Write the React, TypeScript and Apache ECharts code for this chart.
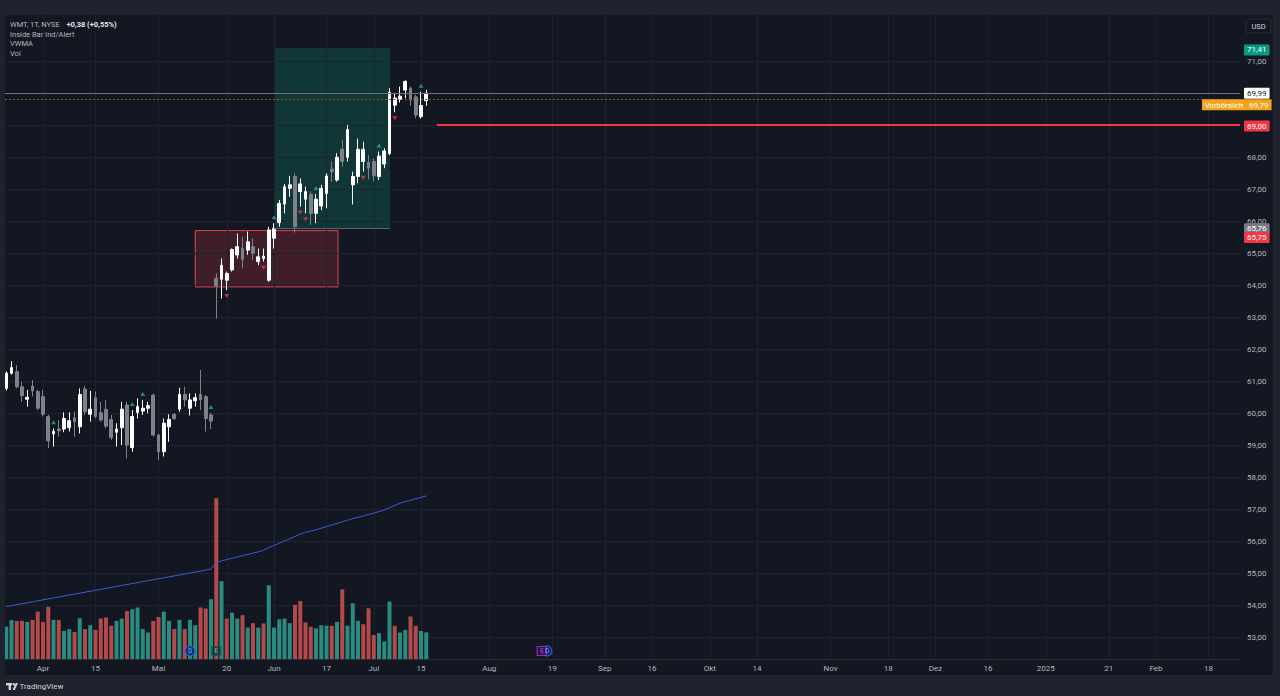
import React, { useEffect, useRef } from "react";
import * as echarts from "echarts";

// ---------------- data ----------------
const FIRST_DAY = "2024-03-20";
const LAST_DAY = "2025-03-14";
const MARKET_HOLIDAYS = [
  "2024-03-29", "2024-05-27", "2024-06-19", "2024-07-04", "2024-09-02",
  "2024-11-28", "2024-12-25", "2025-01-01", "2025-01-20", "2025-02-17",
];

const OPEN = [
  60.77, 61.24, 61.29, 60.82, 60.43, 60.84, 60.67, 60.51, 59.89, 59.35,
  59.50, 59.50, 59.54, 59.85, 59.57, 60.75, 59.96, 60.48, 60.01, 60.11,
  59.80, 59.40, 59.54, 60.25, 58.92, 60.02, 60.06, 60.15, 60.56, 59.31,
  58.79, 59.57, 59.96, 60.12, 60.58, 60.15, 60.38, 60.58, 60.51, 59.94,
  64.21, 64.18, 64.15, 64.47, 64.94, 65.15, 65.09, 65.20, 64.73, 64.83,
  64.15, 65.46, 65.95, 66.53, 67.02, 67.39, 66.92, 66.68, 66.83, 66.24,
  66.47, 66.86, 67.62, 67.28, 68.24, 67.99, 67.13, 67.39, 67.86, 67.83,
  67.86, 67.39, 67.78, 68.11, 69.62, 69.80, 70.09, 70.15, 69.88, 69.26,
  69.76,
];
const HIGH = [
  61.30, 61.62, 61.50, 60.98, 60.72, 61.03, 60.72, 60.72, 59.94, 59.52,
  59.78, 60.02, 60.02, 60.04, 60.77, 60.85, 60.69, 60.67, 60.35, 60.41,
  59.94, 59.68, 60.35, 60.35, 60.09, 60.46, 60.41, 60.35, 60.61, 59.36,
  59.83, 59.96, 59.99, 60.79, 60.82, 60.61, 60.61, 61.34, 60.56, 60.00,
  64.36, 64.83, 64.42, 65.14, 65.61, 65.51, 65.67, 65.46, 65.14, 65.14,
  65.82, 65.93, 66.66, 67.16, 67.41, 67.49, 67.33, 67.07, 66.92, 66.84,
  67.13, 67.49, 67.86, 68.12, 68.53, 69.00, 67.54, 68.58, 68.48, 68.06,
  67.96, 68.17, 68.27, 70.15, 70.00, 70.20, 70.40, 70.20, 69.95, 70.04,
  70.10,
];
const LOW = [
  60.70, 61.20, 60.77, 60.35, 60.20, 60.51, 60.09, 59.89, 58.90, 58.95,
  59.26, 59.40, 59.42, 59.26, 59.36, 59.94, 59.73, 59.83, 59.73, 59.52,
  59.16, 58.95, 59.00, 58.58, 58.79, 59.83, 59.94, 59.99, 59.26, 58.53,
  58.64, 59.10, 59.78, 60.04, 60.20, 59.92, 60.20, 60.09, 59.42, 59.50,
  62.95, 63.58, 63.84, 64.42, 64.83, 64.52, 64.94, 64.78, 64.62, 64.73,
  64.10, 65.14, 65.82, 66.24, 66.76, 65.64, 66.45, 66.24, 65.88, 65.93,
  66.34, 66.40, 67.23, 67.23, 67.70, 67.86, 66.52, 67.18, 67.54, 67.30,
  67.23, 67.28, 67.65, 68.06, 69.40, 69.70, 69.84, 69.60, 69.21, 69.20,
  69.60,
];
const CLOSE = [
  61.24, 61.42, 60.82, 60.54, 60.49, 60.69, 60.15, 59.96, 59.13, 59.42,
  59.44, 59.83, 59.76, 59.73, 60.58, 60.04, 60.12, 59.89, 59.78, 59.59,
  59.23, 59.50, 60.12, 59.00, 59.89, 60.20, 60.15, 60.23, 59.31, 58.79,
  59.68, 59.80, 59.83, 60.58, 60.41, 60.41, 60.48, 60.41, 59.83, 59.75,
  63.97, 64.62, 64.36, 65.11, 65.20, 64.80, 65.35, 64.99, 64.88, 64.90,
  65.72, 65.77, 66.55, 67.07, 67.13, 65.82, 67.16, 66.92, 66.24, 66.68,
  67.02, 67.41, 67.54, 67.99, 67.86, 68.86, 67.39, 68.24, 68.24, 67.65,
  67.41, 68.03, 68.19, 70.02, 69.84, 69.90, 70.36, 69.78, 69.31, 69.61,
  69.99,
];
// volume in millions of shares
const VOLUME = [
  12.6, 15.1, 14.8, 14.8, 14.4, 15.2, 18.4, 14.4, 20.3, 15.2,
  15.1, 10.9, 11.6, 10.5, 15.8, 11.6, 13.1, 11.3, 15.7, 16.1,
  12.9, 14.8, 15.7, 18.6, 19.3, 20.0, 11.6, 10.3, 14.8, 16.3,
  18.4, 14.8, 11.6, 15.2, 11.6, 15.2, 13.1, 20.0, 19.6, 23.2,
  62.4, 30.2, 15.7, 18.0, 15.7, 17.0, 12.2, 13.9, 12.2, 13.8,
  28.6, 12.2, 15.4, 15.7, 13.9, 21.0, 22.5, 14.2, 12.5, 11.9,
  13.1, 12.9, 12.9, 14.4, 27.0, 12.9, 21.6, 14.8, 13.5, 19.7,
  9.3, 10.0, 6.8, 22.3, 12.9, 10.3, 11.3, 16.5, 12.9, 10.9,
  10.3,
];
// 1 = rising volume bar (teal), 0 = falling (red)
const VOLUME_UP = [
  1, 1, 0, 0, 1, 0, 0, 0, 0, 1,
  0, 1, 1, 0, 1, 0, 1, 0, 0, 0,
  0, 1, 1, 0, 1, 1, 1, 1, 0, 0,
  1, 1, 0, 1, 0, 1, 1, 0, 0, 1,
  0, 1, 0, 1, 1, 0, 1, 0, 1, 0,
  1, 1, 1, 1, 1, 0, 0, 0, 0, 1,
  1, 1, 0, 1, 0, 1, 1, 1, 0, 0,
  0, 1, 1, 1, 0, 1, 1, 0, 0, 1,
  1,
];
const VWMA = [
  53.95, 53.98, 54.01, 54.04, 54.07, 54.10, 54.13, 54.16, 54.19, 54.22,
  54.25, 54.28, 54.31, 54.34, 54.37, 54.40, 54.43, 54.46, 54.49, 54.52,
  54.55, 54.58, 54.61, 54.64, 54.67, 54.70, 54.73, 54.76, 54.79, 54.82,
  54.85, 54.88, 54.91, 54.94, 54.97, 55.00, 55.03, 55.06, 55.09, 55.13,
  55.33, 55.38, 55.42, 55.46, 55.50, 55.54, 55.58, 55.62, 55.66, 55.71,
  55.79, 55.86, 55.93, 56.00, 56.07, 56.14, 56.22, 56.27, 56.31, 56.35,
  56.40, 56.45, 56.50, 56.55, 56.60, 56.65, 56.70, 56.74, 56.78, 56.83,
  56.87, 56.92, 56.97, 57.04, 57.11, 57.18, 57.23, 57.27, 57.32, 57.36,
  57.41,
];
// Inside Bar Ind/Alert signals (bar indexes)
const INSIDE_UP = [9, 24, 26, 39, 51, 59, 71, 79];
const INSIDE_DOWN = [42, 49, 56, 57, 68, 74];

const PRICE_TICKS = [53, 54, 55, 56, 57, 58, 59, 60, 61, 62, 63, 64, 65, 66, 67, 68, 69, 70, 71];
const TIME_TICKS: [string, string][] = [
  ["2024-04-01", "Apr"], ["2024-04-15", "15"], ["2024-05-01", "Mai"], ["2024-05-20", "20"],
  ["2024-06-03", "Jun"], ["2024-06-17", "17"], ["2024-07-01", "Jul"], ["2024-07-15", "15"],
  ["2024-08-01", "Aug"], ["2024-08-19", "19"], ["2024-09-03", "Sep"], ["2024-09-16", "16"],
  ["2024-10-01", "Okt"], ["2024-10-14", "14"], ["2024-11-01", "Nov"], ["2024-11-18", "18"],
  ["2024-12-02", "Dez"], ["2024-12-16", "16"], ["2025-01-02", "2025"], ["2025-01-21", "21"],
  ["2025-02-03", "Feb"], ["2025-02-18", "18"],
];
const EVENTS = [
  { date: "2024-05-09", kind: "D", future: false },
  { date: "2024-08-16", kind: "D", future: true },
  { date: "2024-05-16", kind: "E", future: false },
  { date: "2024-08-15", kind: "E", future: true },
];

const PRE_MARKET = 69.79;
const ALERT_PRICE = 69.0;
const ALERT_START = "2024-07-18";
const TARGET_PRICE = 71.41;
const ENTRY_PRICE = 65.76;
const STOP_PRICE = 65.75;
const REWARD_BOX = { from: 51, to: 73.1, top: 71.41, bottom: 65.76 };
const RISK_BOX = { from: 36, to: 63.2, top: 65.7, bottom: 63.94 };

// visible window (bar index / price)
const VIEW_FROM = -0.24;
const VIEW_TO = 235;
const PRICE_MIN = 52.3125;
const PRICE_MAX = 72.4375;
const VOLUME_MAX = 250;

// ---------------- helpers ----------------
function tradingDays(): string[] {
  const out: string[] = [];
  const d = new Date(FIRST_DAY + "T00:00:00Z");
  const end = new Date(LAST_DAY + "T00:00:00Z");
  while (d <= end) {
    const wd = d.getUTCDay();
    const s = d.toISOString().slice(0, 10);
    if (wd !== 0 && wd !== 6 && !MARKET_HOLIDAYS.includes(s)) out.push(s);
    d.setUTCDate(d.getUTCDate() + 1);
  }
  return out;
}
const fmt = (v: number) => v.toFixed(2).replace(".", ",");

const FONT = "Roboto, 'Noto Sans', sans-serif";
const AXIS_TEXT = "#b2b5be";
const WHITE = "#ffffff";
const GREY_CANDLE = "#7e818c";
const TEAL = "#2a8c80";
const RED_VOL = "#b24a4b";
const FRAME = "#1e222d";
const GRIDLINE = "#1e2230";
const NO_LINE = "rgba(0,0,0,0)";

function buildOption() {
  const days = tradingDays();
  const idx = (d: string) => days.indexOf(d);
  const tickIdx = TIME_TICKS.map(([d]) => idx(d));
  const tickLabel = new Map<number, string>(TIME_TICKS.map(([d, l]) => [idx(d), l]));
  const n = CLOSE.length;
  const last = CLOSE[n - 1];
  const change = last - CLOSE[n - 2];
  const pct = (change / CLOSE[n - 2]) * 100;
  const sign = change >= 0 ? "+" : "−";

  const grid = { left: 5, right: 40, top: 15, bottom: 37 };
  const badge = (v: number, bg: string, color = "#ffffff", dy = 0) => ({
    formatter: fmt(v),
    backgroundColor: bg,
    color,
    offset: [0, dy],
  });

  return {
    animation: false,
    backgroundColor: "#131722",
    textStyle: { fontFamily: FONT },
    grid: [grid, grid],
    xAxis: [
      { gridIndex: 0, type: "value", min: VIEW_FROM, max: VIEW_TO, show: false },
      {
        gridIndex: 1, type: "value", min: VIEW_FROM, max: VIEW_TO,
        axisLine: { show: true, lineStyle: { color: "#2a2e39" } },
        axisTick: { show: false, customValues: tickIdx },
        splitLine: { show: false },
        axisLabel: {
          customValues: tickIdx,
          formatter: (v: number) => tickLabel.get(Math.round(v)) ?? "",
          color: AXIS_TEXT, fontSize: 8, margin: 5, fontFamily: FONT,
        },
      },
    ],
    yAxis: [
      {
        gridIndex: 0, type: "value", position: "right", min: PRICE_MIN, max: PRICE_MAX,
        axisLine: { show: false }, axisTick: { show: false, customValues: PRICE_TICKS },
        splitLine: { show: false },
        axisLabel: {
          customValues: PRICE_TICKS, formatter: (v: number) => fmt(v),
          color: AXIS_TEXT, fontSize: 8, margin: 7, fontFamily: FONT,
        },
      },
      { gridIndex: 1, type: "value", min: 0, max: VOLUME_MAX, show: false },
    ],
    series: [
      {
        name: "bg", type: "line", xAxisIndex: 0, yAxisIndex: 0, data: [], z: 0, silent: true,
        markLine: {
          silent: true, z: 0, symbol: ["none", "none"], label: { show: false },
          lineStyle: { color: GRIDLINE, width: 1, type: "solid" },
          data: [
            ...PRICE_TICKS.map((p) => ({ yAxis: p })),
            ...tickIdx.map((i) => ({ xAxis: i })),
          ],
        },
        markArea: {
          silent: true, z: 0,
          data: [
            [
              { coord: [REWARD_BOX.from, REWARD_BOX.top], itemStyle: { color: "rgba(8,153,129,0.24)" } },
              { coord: [REWARD_BOX.to, REWARD_BOX.bottom] },
            ],
            [
              {
                coord: [RISK_BOX.from, RISK_BOX.top],
                itemStyle: { color: "rgba(242,54,69,0.2)", borderColor: "#e0444f", borderWidth: 1 },
              },
              { coord: [RISK_BOX.to, RISK_BOX.bottom] },
            ],
          ],
        },
      },
      {
        name: "Vol", type: "bar", xAxisIndex: 1, yAxisIndex: 1, z: 2, barWidth: 4,
        data: VOLUME.map((v, i) => ({ value: [i, v], itemStyle: { color: VOLUME_UP[i] ? TEAL : RED_VOL } })),
      },
      {
        name: "VWMA", type: "line", xAxisIndex: 0, yAxisIndex: 0, z: 3, showSymbol: false,
        lineStyle: { color: "#3f5ad0", width: 1 },
        data: VWMA.map((v, i) => [i, v]),
      },
      {
        name: "WMT", type: "candlestick", xAxisIndex: 0, yAxisIndex: 0, z: 4, clip: false,
        barWidth: 3.4,
        dimensions: ["idx", "open", "close", "lowest", "highest"],
        encode: { x: "idx", y: ["open", "close", "lowest", "highest"] },
        itemStyle: { color: WHITE, color0: GREY_CANDLE, borderColor: WHITE, borderColor0: GREY_CANDLE, borderWidth: 1 },
        data: OPEN.map((o, i) => [i, o, CLOSE[i], LOW[i], HIGH[i]]),
        markLine: {
          silent: true, symbol: ["none", "none"],
          label: {
            show: true, position: "end", distance: 4, fontSize: 8, fontFamily: FONT,
            padding: [2, 3, 1, 3], borderRadius: 1,
          },
          data: [
            [
              { coord: [REWARD_BOX.from, ENTRY_PRICE], lineStyle: { color: "#5d606b", width: 1, type: "solid" }, label: { show: false } },
              { coord: [REWARD_BOX.to, ENTRY_PRICE] },
            ],
            { yAxis: TARGET_PRICE, lineStyle: { color: NO_LINE }, label: badge(TARGET_PRICE, "#089981", "#fff", 2) },
            {
              yAxis: last, lineStyle: { color: "#6f727c", width: 1, type: "solid" },
              label: badge(last, "#ffffff", "#131722"),
            },
            {
              yAxis: PRE_MARKET, lineStyle: { color: "#8a5a22", width: 1, type: [2, 2] },
              label: {
                formatter: "{a|Vorbörslich}{b|" + fmt(PRE_MARKET) + "}",
                backgroundColor: "transparent", padding: 0, offset: [-42, 5],
                rich: {
                  a: { backgroundColor: "#f7a21b", color: "#fff", fontSize: 7.5, padding: [2, 3, 1, 3], fontFamily: FONT },
                  b: { backgroundColor: "#f7a21b", color: "#fff", fontSize: 8, padding: [2, 3, 1, 3], fontFamily: FONT },
                },
              },
            },
            [
              {
                coord: [idx(ALERT_START), ALERT_PRICE],
                lineStyle: { color: "#f23645", width: 2, type: "solid" },
                label: badge(ALERT_PRICE, "#f23645", "#fff", 1),
              },
              { coord: [VIEW_TO, ALERT_PRICE] },
            ],
            { yAxis: ENTRY_PRICE, lineStyle: { color: NO_LINE }, label: badge(ENTRY_PRICE, "#787b86", "#fff", 0) },
            { yAxis: STOP_PRICE, lineStyle: { color: NO_LINE }, label: badge(STOP_PRICE, "#f23645", "#fff", 8.5) },
          ],
        },
      },
      {
        name: "insideUp", type: "scatter", xAxisIndex: 0, yAxisIndex: 0, z: 5, silent: true,
        symbol: "triangle", symbolSize: [5, 4], symbolOffset: [0, -6],
        itemStyle: { color: "#22ab94" },
        data: INSIDE_UP.map((i) => [i, HIGH[i]]),
      },
      {
        name: "insideDown", type: "scatter", xAxisIndex: 0, yAxisIndex: 0, z: 5, silent: true,
        symbol: "triangle", symbolRotate: 180, symbolSize: [5, 4], symbolOffset: [0, 6],
        itemStyle: { color: "#f23645" },
        data: INSIDE_DOWN.map((i) => [i, LOW[i]]),
      },
      {
        name: "events", type: "scatter", xAxisIndex: 1, yAxisIndex: 1, z: 6, silent: true,
        symbolOffset: [0, -8],
        data: EVENTS.map((e) => {
          const isD = e.kind === "D";
          const style = isD
            ? { color: "#0f2a78", borderColor: "#2962ff", text: "#a9bcff" }
            : e.future
              ? { color: "#2a1545", borderColor: "#c026d3", text: "#d65ce8" }
              : { color: "#0f3a35", borderColor: "#1d5a52", text: "#9fd9cf" };
          return {
            value: [idx(e.date), 0],
            symbol: isD ? "circle" : "rect",
            symbolSize: isD ? 10 : 9,
            itemStyle: { color: style.color, borderColor: style.borderColor, borderWidth: 1.2 },
            label: { show: true, position: "inside", formatter: e.kind, color: style.text, fontSize: 6.5, fontFamily: FONT },
          };
        }),
      },
    ],
    graphic: [
      { type: "rect", z: 100, silent: true, shape: { x: 0, y: 0, width: 1280, height: 15 }, style: { fill: FRAME } },
      { type: "rect", z: 100, silent: true, shape: { x: 0, y: 675, width: 1280, height: 21 }, style: { fill: FRAME } },
      { type: "rect", z: 100, silent: true, shape: { x: 0, y: 0, width: 5, height: 696 }, style: { fill: FRAME } },
      { type: "rect", z: 100, silent: true, shape: { x: 1273, y: 0, width: 7, height: 696 }, style: { fill: FRAME } },
      {
        type: "text", z: 101, silent: true, x: 10, y: 24,
        style: {
          text: "{a|WMT, 1T, NYSE}  {b|" + sign + fmt(Math.abs(change)) + " (" + sign + fmt(Math.abs(pct)) + "%)}",
          verticalAlign: "middle",
          rich: {
            a: { fill: "#b2b5be", fontSize: 7.5, fontFamily: FONT },
            b: { fill: "#e6e8ee", fontSize: 7.5, fontFamily: FONT, fontWeight: "bold" },
          },
        },
      },
      ...["Inside Bar Ind/Alert", "VWMA", "Vol"].map((t, k) => ({
        type: "text", z: 101, silent: true, x: 10, y: 34 + k * 9.7,
        style: { text: t, fill: "#b2b5be", fontSize: 7.5, fontFamily: FONT, verticalAlign: "middle" },
      })),
      {
        type: "rect", z: 101, silent: true, shape: { x: 1246, y: 19, width: 25, height: 14, r: 2 },
        style: { fill: "#131722", stroke: "#2a2e39", lineWidth: 1 },
      },
      {
        type: "text", z: 102, silent: true, x: 1258.5, y: 26.5,
        style: { text: "USD", fill: "#d1d4dc", fontSize: 7.5, fontFamily: FONT, align: "center", verticalAlign: "middle" },
      },
      { type: "rect", z: 101, silent: true, shape: { x: 6, y: 683, width: 6, height: 2.4 }, style: { fill: "#d1d4dc" } },
      { type: "rect", z: 101, silent: true, shape: { x: 8.6, y: 683, width: 2.4, height: 7 }, style: { fill: "#d1d4dc" } },
      { type: "circle", z: 101, silent: true, shape: { cx: 13.8, cy: 684.3, r: 1.3 }, style: { fill: "#d1d4dc" } },
      {
        type: "polygon", z: 101, silent: true,
        shape: { points: [[12.6, 690], [15.8, 683], [18, 683], [14.8, 690]] },
        style: { fill: "#d1d4dc" },
      },
      {
        type: "text", z: 101, silent: true, x: 19.5, y: 686.8,
        style: { text: "TradingView", fill: "#d1d4dc", fontSize: 8, fontFamily: FONT, verticalAlign: "middle" },
      },
    ],
  };
}

export default function App() {
  const ref = useRef<HTMLDivElement>(null);
  useEffect(() => {
    document.body.style.margin = "0";
    const chart = echarts.init(ref.current as HTMLDivElement, null, { renderer: "svg" });
    chart.setOption(buildOption() as any);
    return () => chart.dispose();
  }, []);
  return (
    <div
      ref={ref}
      style={{ position: "fixed", left: 0, top: 0, width: 1280, height: 696, background: FRAME }}
    />
  );
}
